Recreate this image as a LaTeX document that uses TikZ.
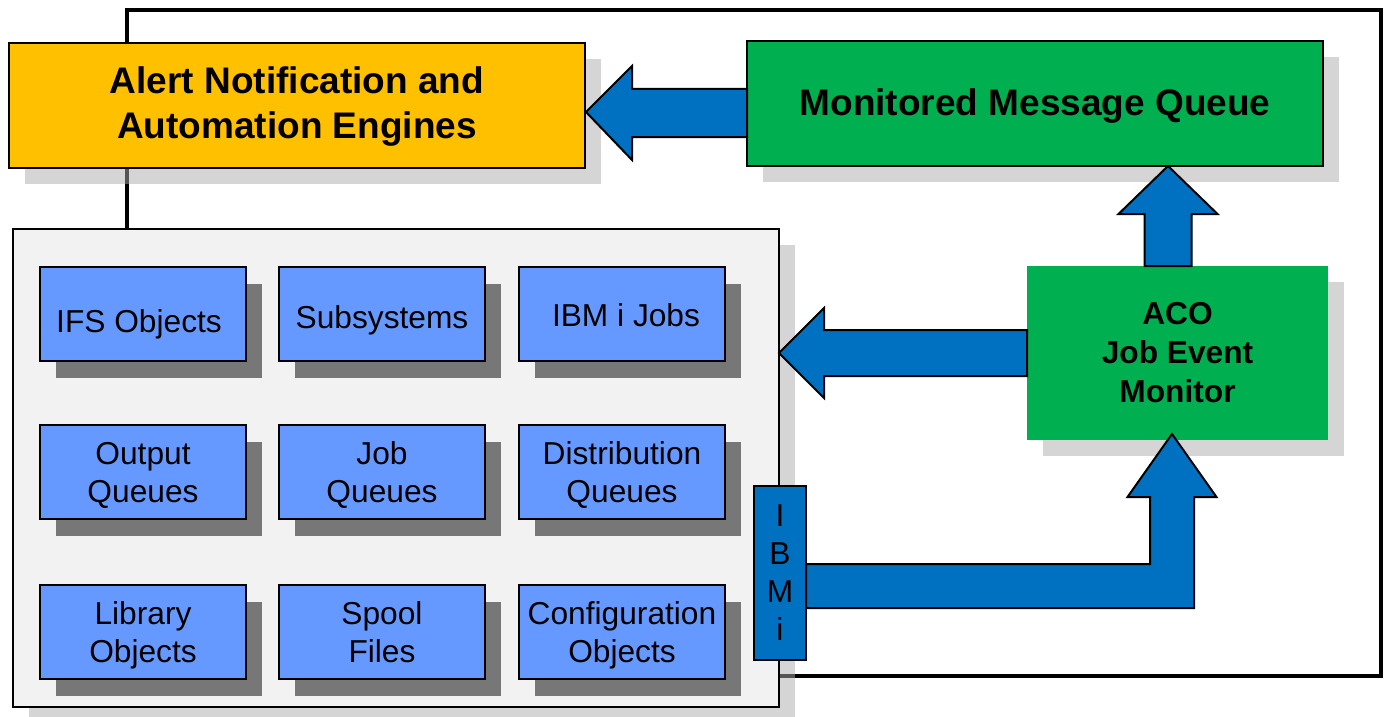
\documentclass[tikz,border=0pt]{standalone}
\usepackage{fontspec}
\setmainfont{Liberation Sans}
\usetikzlibrary{calc,shadows,backgrounds}
\definecolor{orangeF}{HTML}{FFC000}
\definecolor{greenF}{HTML}{00B050}
\definecolor{blueA}{HTML}{0070C0}
\definecolor{lightB}{HTML}{6699FF}
\definecolor{darkSh}{HTML}{777777}
\definecolor{panelF}{HTML}{F2F2F2}
\begin{document}
\begin{tikzpicture}[x=1pt,y=-1pt,
  lightshadow/.style={drop shadow={shadow xshift=16pt,shadow yshift=-16pt,fill=black!33,opacity=0.5}},
  darkshadow/.style={drop shadow={shadow xshift=16pt,shadow yshift=-17pt,fill=darkSh,opacity=1}},
  bigbox/.style={draw=black,line width=2pt,inner sep=0pt,outer sep=0pt,align=center,
    font=\bfseries\fontsize{37}{45}\selectfont,lightshadow,minimum width=576pt,minimum height=125pt},
  acobox/.style={fill=greenF,inner sep=0pt,outer sep=0pt,align=center,
    font=\bfseries\fontsize{31.7}{39}\selectfont,lightshadow,minimum width=301pt,minimum height=174pt},
  panelbox/.style={fill=panelF,draw=black,line width=1.5pt,inner sep=0pt,outer sep=0pt,
    minimum width=766pt,minimum height=478pt,lightshadow},
  objbox/.style={fill=lightB,draw=black,line width=2pt,inner sep=0pt,outer sep=0pt,align=center,
    font=\fontsize{31.7}{38}\selectfont,minimum width=206pt,minimum height=94pt,darkshadow},
  oneline/.style={text height=#1,text depth=0pt},
  twolines/.style={text height=61pt,text depth=0pt},
  ibmbox/.style={fill=blueA,draw=black,line width=2pt,inner sep=0pt,outer sep=0pt,align=center,
    font=\fontsize{31.7}{38}\selectfont,minimum width=52pt,minimum height=174pt},
  barrow/.style={fill=blueA,draw=black,line width=2pt,line join=miter},
  loopline/.style={draw=black,line width=4pt}
]
\useasboundingbox (0,0) rectangle (1385,717);

% panel with object boxes
\node[panelbox] (panel) at (396,468) {};
\node[objbox,oneline=37pt] (ifs)  at (143,313.5) {IFS Objects\hspace{8pt}};
\node[objbox,oneline=29pt] (subs) at (382,313.5) {Subsystems};
\node[objbox,oneline=26pt] (jobs) at (622,313.5) {\hspace{8pt}IBM i Jobs};
\node[objbox,twolines] (outq) at (143,471.5) {Output\\Queues};
\node[objbox,twolines] (jobq) at (382,471.5) {Job\\Queues};
\node[objbox,twolines] (dstq) at (622,471.5) {Distribution\\Queues};
\node[objbox,twolines] (libo) at (143,631.5) {Library\\Objects};
\node[objbox,twolines] (splf) at (382,631.5) {Spool\\Files};
\node[objbox,twolines] (cfgo) at (622,631.5) {Configuration\\Objects};
\node[ibmbox] (ibm) at (780,573) {I\\B\\M\\i};

% main boxes
\node[bigbox,fill=orangeF,text height=65pt,text depth=0pt] (alert) at (297,105.5) {Alert Notification and\\Automation Engines};
\node[bigbox,fill=greenF,text height=23pt,text depth=0pt] (mmq) at (1035,103.5) {Monitored Message Queue};
\node[acobox] (aco) at (1177.5,353) {ACO\\Job Event\\Monitor};

% loop line behind everything
\coordinate (lx) at (127,10);
\coordinate (rc) at (1381,676);
\begin{scope}[on background layer]
  \draw[loopline] (alert.north -| lx) -- (lx) -| (rc) -- (rc -| panel.east);
  \draw[loopline] (alert.south -| lx) -- (panel.north -| lx);
\end{scope}

% arrow: message queue -> alert engines
\draw[barrow] ($(mmq.west)+(0,-14.5)$) -- ++(-115,0) -- ++(0,-23)
  -- ($(alert.east)+(1,6.5)$) -- ($(mmq.west)+(-115,56.5)$) -- ++(0,-23)
  -- ($(mmq.west)+(0,33.5)$) -- cycle;

% arrow: job event monitor -> panel
\draw[barrow] ($(aco.west)+(0,-23)$) -- ++(-203,0) -- ++(0,-22)
  -- (panel.east |- aco.west) -- ($(aco.west)+(-203,45)$) -- ++(0,-22)
  -- ($(aco.west)+(0,23)$) -- cycle;

% arrow: job event monitor -> message queue
\coordinate (upc) at ($(aco.north)+(-9.5,0)$);
\draw[barrow] ($(upc)+(-23.5,0)$) -- ++(0,-52) -- ++(-26,0)
  -- (upc |- mmq.south) -- ($(upc)+(49.5,-52)$) -- ++(-26,0)
  -- ($(upc)+(23.5,0)$) -- cycle;

% bent arrow: IBM i -> job event monitor
\coordinate (bt) at ($(aco.south)+(-5.5,-6)$);
\draw[barrow] ($(ibm.east)+(0,-9)$) -- ($(bt)+(-22,130)$) -- ($(bt)+(-22,63)$)
  -- ($(bt)+(-44.5,63)$) -- (bt) -- ($(bt)+(44.5,63)$) -- ($(bt)+(22,63)$)
  -- ($(bt)+(22,174)$) -- ($(ibm.east)+(0,35)$) -- cycle;
\end{tikzpicture}
\end{document}
